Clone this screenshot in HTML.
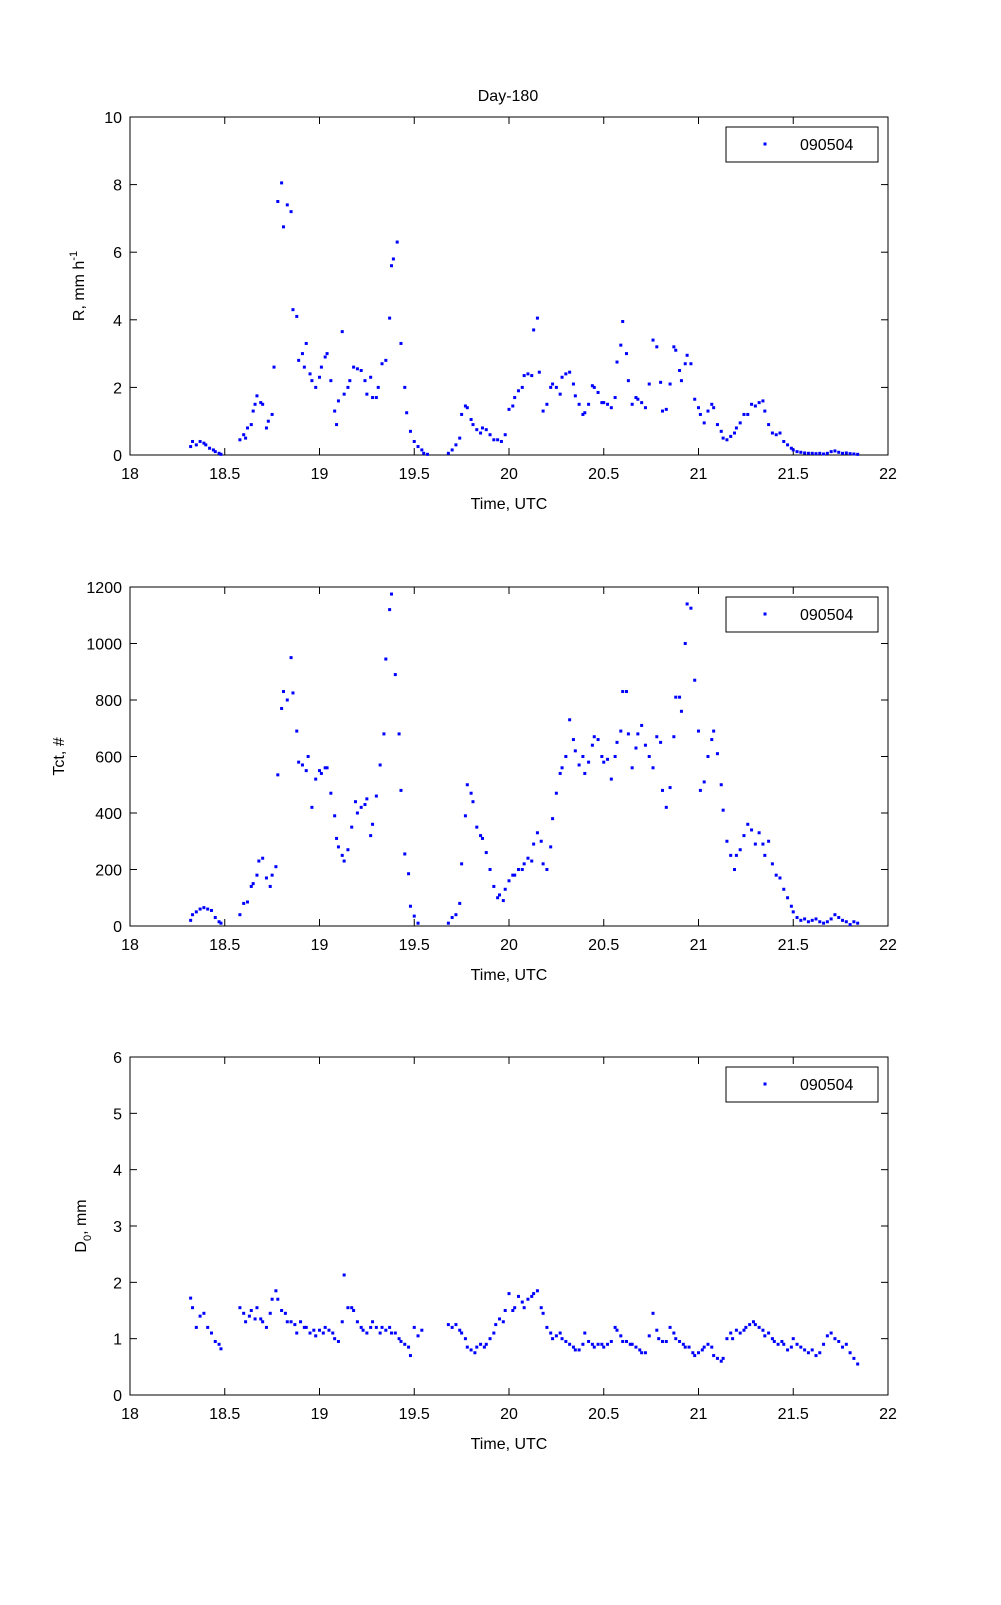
<!DOCTYPE html>
<html><head><meta charset="utf-8"><style>
body{margin:0;background:#fff;}
svg text{font-family:"Liberation Sans",Arial,sans-serif;font-size:16px;fill:#000;}
</style></head><body>
<svg id="s" width="1001" height="1600" xmlns="http://www.w3.org/2000/svg"></svg>
<script>
const S=document.getElementById('s');let h='';
const X0=130,X1=888;const tx=t=>X0+(t-18)/4*(X1-X0);
function axes(top,bot,ymax,ystep,ylab,data,labx){
 h+=`<rect x="${X0}" y="${top}" width="${X1-X0}" height="${bot-top}" fill="#fff" stroke="#000" stroke-width="1"/>`;
 for(let t=18;t<=22.001;t+=0.5){const x=tx(t);
  h+=`<line x1="${x}" y1="${bot}" x2="${x}" y2="${bot-7}" stroke="#000"/><line x1="${x}" y1="${top}" x2="${x}" y2="${top+7}" stroke="#000"/>`;
  h+=`<text x="${x}" y="${bot+24}" text-anchor="middle">${+t.toFixed(1)}</text>`;}
 for(let v=0;v<=ymax+1e-9;v+=ystep){const y=bot-(v/ymax)*(bot-top);
  h+=`<line x1="${X0}" y1="${y}" x2="${X0+7}" y2="${y}" stroke="#000"/><line x1="${X1}" y1="${y}" x2="${X1-7}" y2="${y}" stroke="#000"/>`;
  h+=`<text x="${X0-8}" y="${y+6}" text-anchor="end">${v}</text>`;}
 h+=`<text x="${(X0+X1)/2}" y="${bot+54}" text-anchor="middle">Time, UTC</text>`;
 h+=`<text transform="translate(${labx},${(top+bot)/2}) rotate(-90)" text-anchor="middle">${ylab}</text>`;
 h+=`<rect x="726" y="${top+10}" width="152" height="35" fill="#fff" stroke="#000"/>`;
 h+=`<rect x="763.5" y="${top+25.5}" width="3" height="3" fill="#00f"/>`;
 h+=`<text x="800" y="${top+33}">090504</text>`;
 for(let i=0;i<data.length;i+=2){const x=tx(data[i]),y=bot-(data[i+1]/ymax)*(bot-top);
  h+=`<rect x="${x-1.5}" y="${y-1.5}" width="3" height="3" fill="#00f"/>`;}
}
const R=[18.32,.25,18.33,.4,18.35,.3,18.37,.4,18.39,.35,18.4,.3,18.42,.2,18.44,.15,18.45,.1,18.47,.05,18.48,.02,
18.58,.45,18.6,.6,18.61,.5,18.62,.8,18.64,.9,18.65,1.3,18.66,1.5,18.67,1.75,18.69,1.55,18.7,1.5,18.72,.8,18.73,1.0,18.75,1.2,18.76,2.6,18.78,7.5,18.8,8.05,18.81,6.75,18.83,7.4,18.85,7.2,18.86,4.3,18.88,4.1,18.89,2.8,18.91,3.0,18.92,2.6,18.93,3.3,18.95,2.4,18.96,2.2,18.98,2.0,19.0,2.3,19.01,2.6,19.03,2.9,19.04,3.0,19.06,2.2,19.08,1.3,19.09,.9,19.1,1.6,19.12,3.65,19.13,1.8,19.15,2.0,19.16,2.2,19.18,2.6,19.2,2.55,19.22,2.5,19.24,2.2,19.25,1.8,19.27,2.3,19.28,1.7,19.3,1.7,19.31,2.0,19.33,2.7,19.35,2.8,19.37,4.05,19.38,5.6,19.39,5.8,19.41,6.3,19.43,3.3,19.45,2.0,19.46,1.25,19.48,.7,19.5,.4,19.52,.25,19.54,.15,19.55,.05,19.57,.02,
19.68,.05,19.7,.15,19.72,.3,19.74,.5,19.75,1.2,19.77,1.45,19.78,1.4,19.8,1.05,19.81,.9,19.83,.75,19.85,.65,19.86,.8,19.88,.75,19.9,.6,19.92,.45,19.94,.45,19.96,.4,19.98,.6,20.0,1.35,20.02,1.45,20.03,1.7,20.05,1.9,20.07,2.0,20.08,2.35,20.1,2.4,20.12,2.35,20.13,3.7,20.15,4.05,20.16,2.45,20.18,1.3,20.2,1.5,20.22,2.0,20.23,2.1,20.25,2.0,20.27,1.8,20.28,2.3,20.3,2.4,20.32,2.45,20.34,2.1,20.35,1.75,20.37,1.5,20.39,1.2,20.4,1.25,20.42,1.5,20.44,2.05,20.45,2.0,20.47,1.85,20.49,1.55,20.5,1.55,20.52,1.5,20.54,1.4,20.56,1.7,20.57,2.75,20.59,3.25,20.6,3.95,20.62,3.0,20.63,2.2,20.65,1.5,20.67,1.7,20.68,1.65,20.7,1.55,20.72,1.4,20.74,2.1,20.76,3.4,20.78,3.2,20.8,2.15,20.81,1.3,20.83,1.35,20.85,2.1,20.87,3.2,20.88,3.1,20.9,2.5,20.91,2.2,20.93,2.7,20.94,2.95,20.96,2.7,20.98,1.65,21.0,1.4,21.01,1.2,21.03,.95,21.05,1.3,21.07,1.5,21.08,1.4,21.1,.9,21.12,.7,21.13,.5,21.15,.45,21.17,.55,21.19,.65,21.2,.8,21.22,.95,21.24,1.2,21.26,1.2,21.28,1.5,21.3,1.45,21.32,1.55,21.34,1.6,21.35,1.3,21.37,.9,21.39,.65,21.41,.6,21.43,.65,21.45,.4,21.47,.3,21.49,.2,21.5,.15,21.52,.1,21.54,.08,21.56,.06,21.58,.05,21.6,.05,21.62,.04,21.64,.05,21.66,.03,21.68,.05,21.7,.1,21.72,.12,21.74,.08,21.76,.05,21.78,.06,21.8,.04,21.82,.03,21.84,.02];
const T=[18.32,20,18.33,40,18.35,50,18.37,60,18.39,65,18.41,60,18.43,55,18.45,30,18.47,15,18.48,10,
18.58,40,18.6,80,18.62,85,18.64,140,18.65,150,18.67,180,18.68,230,18.7,240,18.72,170,18.74,140,18.75,180,18.77,210,18.78,535,18.8,770,18.81,830,18.83,800,18.85,950,18.86,825,18.88,690,18.89,580,18.91,570,18.93,550,18.94,600,18.96,420,18.98,520,19.0,550,19.01,540,19.03,560,19.04,560,19.06,470,19.08,390,19.09,310,19.1,280,19.12,250,19.13,230,19.15,270,19.17,350,19.19,440,19.2,400,19.22,420,19.24,430,19.25,450,19.27,320,19.28,360,19.3,460,19.32,570,19.34,680,19.35,945,19.37,1120,19.38,1175,19.4,890,19.42,680,19.43,480,19.45,255,19.47,185,19.48,70,19.5,35,19.52,10,
19.68,10,19.7,30,19.72,40,19.74,80,19.75,220,19.77,390,19.78,500,19.8,470,19.81,440,19.83,350,19.85,320,19.86,310,19.88,260,19.9,200,19.92,140,19.94,100,19.95,110,19.97,90,19.98,130,20.0,160,20.02,180,20.03,180,20.05,200,20.07,200,20.08,220,20.1,240,20.12,230,20.13,290,20.15,330,20.17,300,20.18,220,20.2,200,20.22,280,20.23,380,20.25,470,20.27,540,20.28,560,20.3,600,20.32,730,20.34,660,20.35,620,20.37,570,20.39,600,20.4,540,20.42,580,20.44,640,20.45,670,20.47,660,20.49,600,20.5,580,20.52,590,20.54,520,20.56,600,20.57,650,20.59,690,20.6,830,20.62,830,20.63,680,20.65,560,20.67,630,20.68,680,20.7,710,20.72,640,20.74,600,20.76,560,20.78,670,20.8,650,20.81,480,20.83,420,20.85,490,20.87,670,20.88,810,20.9,810,20.91,760,20.93,1000,20.94,1140,20.96,1125,20.98,870,21.0,690,21.01,480,21.03,510,21.05,600,21.07,660,21.08,690,21.1,610,21.12,500,21.13,410,21.15,300,21.17,250,21.19,200,21.2,250,21.22,270,21.24,320,21.26,360,21.28,340,21.3,290,21.32,330,21.34,290,21.35,250,21.37,300,21.39,220,21.41,180,21.43,170,21.45,130,21.47,100,21.49,70,21.5,50,21.52,30,21.54,20,21.56,25,21.58,15,21.6,20,21.62,25,21.64,15,21.66,10,21.68,15,21.7,25,21.72,40,21.74,30,21.76,20,21.78,15,21.8,5,21.82,15,21.84,10];
const D=[18.32,1.72,18.33,1.55,18.35,1.2,18.37,1.4,18.39,1.45,18.41,1.2,18.43,1.1,18.45,.95,18.47,.9,18.48,.82,
18.58,1.55,18.6,1.45,18.61,1.3,18.63,1.4,18.64,1.5,18.66,1.35,18.67,1.55,18.69,1.35,18.7,1.3,18.72,1.2,18.74,1.45,18.75,1.7,18.77,1.85,18.78,1.7,18.8,1.5,18.82,1.45,18.83,1.3,18.85,1.3,18.87,1.25,18.88,1.1,18.9,1.3,18.92,1.2,18.93,1.2,18.95,1.1,18.97,1.15,18.98,1.05,19.0,1.15,19.02,1.1,19.03,1.2,19.05,1.15,19.07,1.1,19.08,1.0,19.1,.95,19.12,1.3,19.13,2.13,19.15,1.55,19.17,1.55,19.18,1.5,19.2,1.3,19.22,1.2,19.23,1.15,19.25,1.1,19.27,1.2,19.28,1.3,19.3,1.2,19.32,1.1,19.33,1.2,19.35,1.15,19.37,1.2,19.38,1.1,19.4,1.1,19.42,1.0,19.43,.95,19.45,.9,19.47,.85,19.48,.7,19.5,1.2,19.52,1.05,19.54,1.15,
19.68,1.25,19.7,1.2,19.72,1.25,19.74,1.15,19.75,1.1,19.77,1.0,19.78,.85,19.8,.8,19.82,.75,19.83,.85,19.85,.9,19.87,.85,19.88,.9,19.9,1.0,19.92,1.1,19.93,1.25,19.95,1.35,19.97,1.3,19.98,1.5,20.0,1.8,20.02,1.5,20.03,1.55,20.05,1.75,20.07,1.65,20.08,1.55,20.1,1.7,20.12,1.75,20.13,1.8,20.15,1.85,20.17,1.55,20.18,1.45,20.2,1.2,20.22,1.1,20.23,1.0,20.25,1.05,20.27,1.1,20.28,1.0,20.3,.95,20.32,.9,20.34,.85,20.35,.8,20.37,.8,20.39,.9,20.4,1.1,20.42,.95,20.44,.9,20.45,.85,20.47,.9,20.49,.9,20.5,.85,20.52,.9,20.54,.95,20.56,1.2,20.57,1.15,20.59,1.05,20.6,.95,20.62,.95,20.64,.9,20.65,.9,20.67,.85,20.69,.8,20.7,.75,20.72,.75,20.74,1.05,20.76,1.45,20.78,1.15,20.79,1.0,20.81,.95,20.83,.95,20.85,1.2,20.87,1.1,20.88,1.0,20.9,.95,20.92,.9,20.93,.85,20.95,.85,20.97,.75,20.98,.7,21.0,.75,21.02,.8,21.03,.85,21.05,.9,21.07,.85,21.08,.7,21.1,.65,21.12,.6,21.13,.65,21.15,1.0,21.17,1.1,21.18,1.0,21.2,1.15,21.22,1.1,21.24,1.15,21.25,1.2,21.27,1.25,21.29,1.3,21.3,1.25,21.32,1.2,21.34,1.15,21.35,1.05,21.37,1.1,21.39,1.0,21.4,.95,21.42,.9,21.44,.95,21.45,.9,21.47,.8,21.49,.85,21.5,1.0,21.52,.9,21.54,.85,21.56,.8,21.58,.75,21.6,.8,21.62,.7,21.64,.75,21.66,.9,21.68,1.05,21.7,1.1,21.72,1.0,21.74,.95,21.76,.85,21.78,.9,21.8,.75,21.82,.65,21.84,.55];
axes(117,455,10,2,'R, mm h<tspan dy="-7" font-size="11">-1</tspan>',R,84);
axes(587,926,1200,200,'Tct, #',T,64);
axes(1057,1395,6,1,'D<tspan dy="5" font-size="11">0</tspan><tspan dy="-5">, mm</tspan>',D,86);
h+=`<text x="508" y="101" text-anchor="middle">Day-180</text>`;
S.innerHTML=h;
</script>
</body></html>
